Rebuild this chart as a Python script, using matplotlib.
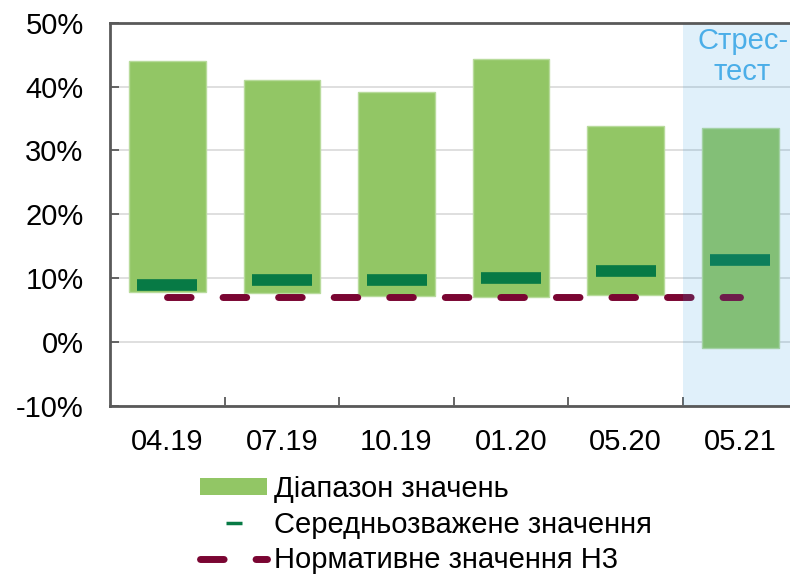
import matplotlib
matplotlib.use("Agg")
import matplotlib.pyplot as plt
from matplotlib.lines import Line2D
from matplotlib.patches import Patch
import numpy as np

plt.rcParams['font.family'] = ['Liberation Sans', 'DejaVu Sans']

# Data (%)
categories = ["04.19", "07.19", "10.19", "01.20", "05.20", "05.21"]
range_high = [44.0, 41.0, 39.2, 44.3, 33.9, 33.5]
range_low = [7.8, 7.7, 7.2, 7.1, 7.45, -0.9]
weighted_avg = [8.9, 9.7, 9.7, 10.0, 11.1, 12.8]
norm_value = 7.0
stress_label = "Стрес-\nтест"
legend_labels = ["Діапазон значень", "Середньозважене значення", "Нормативне значення Н3"]

bar_color = "#92C665"
bar_edge = "#B8DB9C"
avg_color = "#077A45"
norm_color = "#7A0532"
shade_color = "#309BDE"
stress_text_color = "#4BAEE8"
axis_color = "#595959"
grid_color = "#D9D9D9"
fs = 21

fig = plt.figure(figsize=(7.9, 5.75), dpi=100)
ax = fig.add_axes([110 / 790, 1 - 406 / 575, 680 / 790, (406 - 22.7) / 575])

x = np.arange(len(categories))
heights = [h - l for h, l in zip(range_high, range_low)]

ax.bar(x, heights, bottom=range_low, width=0.667, color=bar_color,
       edgecolor=bar_edge, linewidth=1.0, zorder=2)

ax.plot(x, weighted_avg, ls='none', marker='_', markersize=42.5,
        markeredgewidth=8.4, color=avg_color, zorder=3)

ax.plot([x[0], x[-1]], [norm_value, norm_value], color=norm_color, lw=5,
        ls=(0, (3.4, 4.6)), dash_capstyle='round', zorder=3)

# Stress-test zone
ax.axvspan(4.5, 5.5, color=shade_color, alpha=0.15, lw=0, zorder=4)
ax.text(5.02, 49.3, stress_label, ha='center', va='top', fontsize=fs,
        color=stress_text_color, linespacing=1.15, zorder=5)

ax.set_xlim(-0.5, -0.5 + 680 / 114.6)
ax.set_ylim(-10, 50)

ax.set_yticks(np.arange(-10, 51, 10))
ax.set_yticklabels([f"{v}%" for v in range(-10, 51, 10)])
ax.set_xticks(x)
ax.set_xticklabels(categories)
ax.set_xticks(np.arange(0.5, 5, 1), minor=True)

ax.tick_params(axis='y', direction='in', length=6.5, width=1.3, color=axis_color,
               labelsize=fs, pad=19, labelcolor='black')
ax.tick_params(axis='x', which='major', length=0, labelsize=fs, pad=16, labelcolor='black')
ax.tick_params(axis='x', which='minor', direction='in', length=6.3, width=1.3, color=axis_color)

ax.yaxis.grid(True, color=grid_color, lw=1.2)
ax.set_axisbelow(True)

for side in ['left', 'bottom', 'top']:
    ax.spines[side].set_color(axis_color)
    ax.spines[side].set_linewidth(2)
    ax.spines[side].set_zorder(6)
ax.spines['right'].set_visible(False)

handles = [
    Patch(facecolor=bar_color, edgecolor='none'),
    Line2D([], [], ls='none', marker='_', markersize=11.5, markeredgewidth=2.5, color=avg_color),
    Line2D([], [], color=norm_color, lw=5, ls=(0, (3.4, 4.6)), dash_capstyle='round'),
]
fig.legend(handles, legend_labels, loc='upper left', bbox_to_anchor=(200 / 790, 1 - 475 / 575),
           frameon=False, fontsize=fs, handlelength=2.3, handleheight=0.52,
           handletextpad=0.22, labelspacing=0.26, borderpad=0, borderaxespad=0)

fig.savefig("out.png", dpi=100)
